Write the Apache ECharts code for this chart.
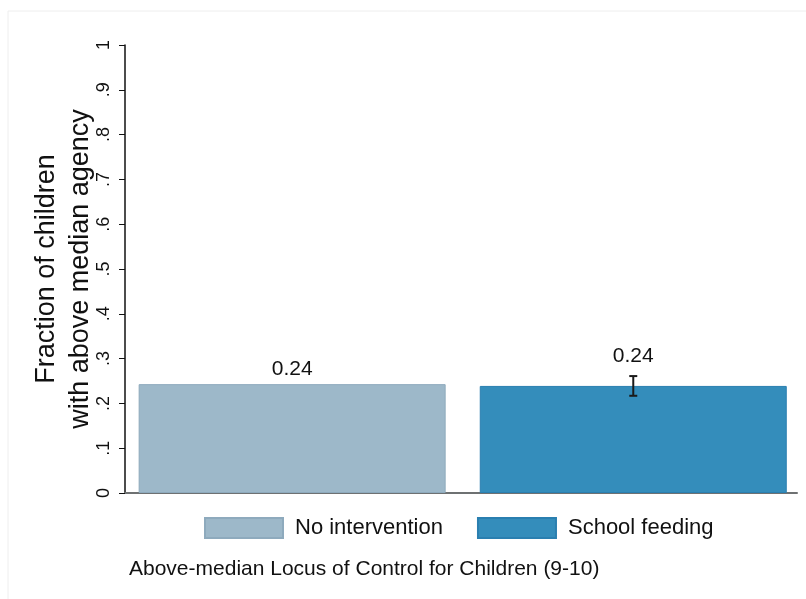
<!DOCTYPE html>
<html>
<head>
<meta charset="utf-8">
<script src="https://cdn.jsdelivr.net/npm/echarts@6/dist/echarts.min.js"></script>
<style>
  html, body { margin: 0; padding: 0; background: #fff; }
  #chart { width: 806px; height: 599px; }
</style>
</head>
<body>
<div id="chart"></div>
<script>
const groups = ['No intervention', 'School feeding'];
const positions = [0, 1];
const means = [0.243, 0.239];
const ciLow = [null, 0.217];
const ciHigh = [null, 0.261];
const valueLabels = ['0.24', '0.24'];
const yTicks = ['0', '.1', '.2', '.3', '.4', '.5', '.6', '.7', '.8', '.9', '1'];

const colors = ['#9db8c9', '#348dbb'];
const borders = ['#8eaabd', '#2a7fb0'];

const chart = echarts.init(document.getElementById('chart'));

const barSeries = groups.map((g, i) => ({
  name: g,
  type: 'bar',
  barWidth: 307,
  barGap: '-100%',
  data: [[positions[i], means[i]]],
  itemStyle: { color: colors[i], borderColor: borders[i], borderWidth: 1 },
  label: {
    show: true,
    position: 'top',
    distance: ciHigh[i] == null ? 4 : 19,
    formatter: () => valueLabels[i],
    fontFamily: 'Liberation Sans',
    fontSize: 21,
    color: '#111'
  }
}));

const errorSeries = {
  type: 'custom',
  silent: true,
  z: 10,
  data: groups.map((_, i) => [positions[i], ciLow[i], ciHigh[i]]).filter(d => d[1] != null),
  renderItem: (params, api) => {
    const lo = api.coord([api.value(0), api.value(1)]);
    const hi = api.coord([api.value(0), api.value(2)]);
    const x = lo[0];
    const w = 4;
    const style = { stroke: '#1a1a1a', lineWidth: 2 };
    return {
      type: 'group',
      children: [
        { type: 'line', shape: { x1: x, y1: lo[1], x2: x, y2: hi[1] }, style },
        { type: 'line', shape: { x1: x - w, y1: lo[1], x2: x + w, y2: lo[1] }, style },
        { type: 'line', shape: { x1: x - w, y1: hi[1], x2: x + w, y2: hi[1] }, style }
      ]
    };
  }
};

chart.setOption({
  animation: false,
  backgroundColor: '#fff',
  textStyle: { fontFamily: 'Liberation Sans' },
  graphic: [{
    type: 'rect',
    shape: { x: 8, y: 11, width: 820, height: 620 },
    style: { fill: 'none', stroke: '#eeeeee', lineWidth: 1 }
  }],
  title: {
    text: 'Above-median Locus of Control for Children (9-10)',
    left: 124,
    top: 554,
    textStyle: { fontFamily: 'Liberation Sans', fontSize: 21, fontWeight: 'normal', color: '#111' }
  },
  legend: {
    data: groups,
    left: 199,
    top: 512,
    itemWidth: 78,
    itemHeight: 20,
    itemGap: 34,
    icon: 'rect',
    textStyle: { fontFamily: 'Liberation Sans', fontSize: 22, color: '#111', padding: [0, 0, 0, 7] }
  },
  grid: { left: 125, right: 9, top: 45, bottom: 106, containLabel: false },
  xAxis: {
    type: 'value',
    min: -0.49,
    max: 1.48,
    axisLine: { onZero: false, lineStyle: { color: '#6e7172', width: 2 } },
    axisTick: { show: false },
    axisLabel: { show: false },
    splitLine: { show: false }
  },
  yAxis: {
    type: 'value',
    min: 0,
    max: 1,
    interval: 0.1,
    name: 'Fraction of children\nwith above median agency',
    nameLocation: 'middle',
    nameGap: 27,
    nameMoveOverlap: false,
    nameRotate: 90,
    nameTextStyle: { fontFamily: 'Liberation Sans', fontSize: 27, color: '#111', lineHeight: 34 },
    axisLine: { show: true, onZero: false, lineStyle: { color: '#111', width: 1.5 } },
    axisTick: { show: true, length: 6, lineStyle: { color: '#111' } },
    splitLine: { show: false },
    axisLabel: {
      rotate: 90,
      margin: 12,
      fontFamily: 'Liberation Sans',
      fontSize: 18,
      color: '#111',
      formatter: v => yTicks[Math.round(v * 10)]
    }
  },
  series: [...barSeries, errorSeries]
});
</script>
</body>
</html>
